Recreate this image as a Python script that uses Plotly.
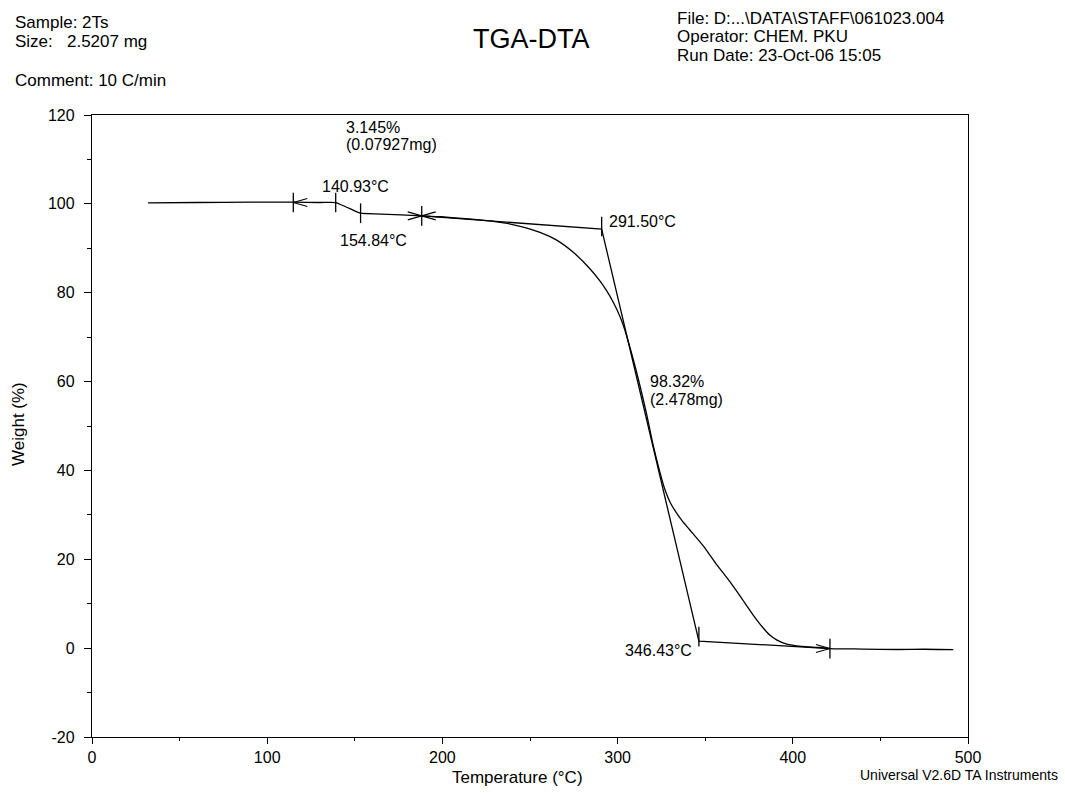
import plotly.graph_objects as go

# ---- data ----
temp_c = [32, 60, 90, 115, 130, 139, 145, 150, 153.3, 165, 188, 199, 215, 230, 237, 245,
          255.7, 265, 274.7, 284.2, 290, 293.8, 297.6, 301.4, 303.3, 305.2, 310, 316.6,
          320, 324.2, 327, 330, 333.7, 337, 341, 348.9, 356, 364.2, 371, 377.5, 383, 387, 391,
          396.5, 405, 415.5, 421, 440, 460, 475, 491.6]
weight_pct = [100.2, 100.3, 100.4, 100.4, 100.3, 100.3, 99.3, 98.4, 97.9, 97.7, 97.3, 97.1,
              96.6, 96.0, 95.6, 94.9, 93.6, 91.9, 89.1, 85.4, 82.6, 80.4, 77.8, 74.6, 72.6,
              70.2, 63.4, 52.6, 46.2, 39.5, 35.7, 32.8, 30.4, 28.6, 26.7, 23.0, 19.1, 14.9,
              11.1, 7.4, 4.6, 2.9, 1.8, 0.9, 0.4, 0.15, -0.1, -0.2, -0.3, -0.25, -0.35]

# step analysis markers (first small loss)
step1_t = [114.9, 139.1, 153.3, 188.2]
step1_w = [100.3, 100.3, 97.9, 97.3]

# onset construction for main loss
onset_t = [188.2, 290.9, 346.4, 421.2]
onset_w = [97.3, 94.3, 1.6, -0.1]

x_ticks = [0, 100, 200, 300, 400, 500]
y_ticks = [-20, 0, 20, 40, 60, 80, 100, 120]
y_tick_text = ["-20", "0", "20", "40", "60", "80", "100", "120"]

FONT = "Liberation Sans, Arial, sans-serif"
L, R, T, B = 92, 97, 115, 56
W_PX, H_PX = 1065, 793
PW, PH = W_PX - L - R, H_PX - T - B
X0, X1, Y0, Y1 = 0, 500, -20, 120
sx = PW / (X1 - X0)
sy = PH / (Y1 - Y0)

fig = go.Figure()

# main curve
fig.add_trace(go.Scatter(x=temp_c, y=weight_pct, mode="lines",
                         line=dict(color="black", width=1.3, shape="spline", smoothing=0.6),
                         hoverinfo="skip"))

# tangent construction lines
fig.add_trace(go.Scatter(x=onset_t, y=onset_w, mode="lines",
                         line=dict(color="black", width=1.3), hoverinfo="skip"))

# ticks
tick_t = [step1_t[0], step1_t[1], step1_t[2], step1_t[3], onset_t[1], onset_t[2], onset_t[3]]
tick_w = [step1_w[0], step1_w[1], step1_w[2], step1_w[3], onset_w[1] + 0.6, onset_w[2] + 1.0, onset_w[3]]
fig.add_trace(go.Scatter(x=tick_t, y=tick_w, mode="markers",
                         marker=dict(symbol="line-ns", size=14,
                                     line=dict(width=1.3, color="black")),
                         hoverinfo="skip"))


def chevron(t, w, direction):
    # direction +1: points right (arms on left); -1: points left (arms on right)
    dx = 14 / sx
    dy = 4 / sy
    return [t - direction * dx, t, t - direction * dx], [w + dy, w, w - dy]


chev = [(step1_t[0], step1_w[0], -1), (step1_t[3], step1_w[3], 1),
        (onset_t[0], onset_w[0], -1), (onset_t[3], onset_w[3], 1)]
for t, w, d in chev:
    cx, cy = chevron(t, w, d)
    fig.add_trace(go.Scatter(x=cx, y=cy, mode="lines",
                             line=dict(color="black", width=1.1), hoverinfo="skip"))


def px_to_paper(x, y):
    return (x - L) / PW, 1 - (y - T) / PH


annotations = []


def ann_px(text, x, y, xanchor="left", size=16, angle=0):
    xp, yp = px_to_paper(x, y)
    annotations.append(dict(text=text, x=xp, y=yp, xref="paper", yref="paper",
                            xanchor=xanchor, yanchor="middle", showarrow=False,
                            textangle=angle,
                            font=dict(family=FONT, size=size, color="black")))


def ann_data(text, t, w, xanchor="left", size=16):
    annotations.append(dict(text=text, x=t, y=w, xref="x", yref="y",
                            xanchor=xanchor, yanchor="middle", showarrow=False,
                            font=dict(family=FONT, size=size, color="black")))


# header
ann_px("Sample: 2Ts", 13, 23, size=17)
ann_px("Size:\u00a0\u00a0\u00a02.5207 mg", 13, 41, size=17)
ann_px("Comment: 10 C/min", 13, 80, size=17)
ann_px("TGA-DTA", 531, 39, xanchor="center", size=27)
ann_px("File: D:...\\DATA\\STAFF\\061023.004", 675, 19, size=17)
ann_px("Operator: CHEM. PKU", 675, 37, size=17)
ann_px("Run Date: 23-Oct-06 15:05", 675, 55, size=17)

# axis titles
ann_px("Temperature (°C)", 517, 778, xanchor="center", size=17)
ann_px("Weight (%)", 18, 424, xanchor="center", size=17, angle=-90)
ann_px("Universal V2.6D TA Instruments", 1060, 775, xanchor="right", size=14)

# analysis labels
ann_data("3.145%", 143.8, 117.2)
ann_data("(0.07927mg)", 143.8, 113.3)
ann_data("140.93°C", 130.1, 103.8)
ann_data("154.84°C", 140.4, 91.7)
ann_data("291.50°C", 293.8, 96.1)
ann_data("98.32%", 317.4, 60.1)
ann_data("(2.478mg)", 317.4, 56.0)
ann_data("346.43°C", 343.4, -0.6, xanchor="right")

axis_common = dict(showline=True, linecolor="black", linewidth=1.4, mirror=True,
                   showgrid=False, zeroline=False, ticks="outside", tickcolor="black",
                   tickwidth=1.2, automargin=False,
                   tickfont=dict(family=FONT, size=16, color="black"))

fig.update_layout(
    width=W_PX, height=H_PX,
    margin=dict(l=L, r=R, t=T, b=B),
    paper_bgcolor="white", plot_bgcolor="white",
    showlegend=False,
    annotations=annotations,
    xaxis=dict(range=[X0, X1], tickvals=x_ticks, ticklen=6,
               minor=dict(dtick=50, tick0=0, ticks="outside", ticklen=3, tickcolor="black"),
               **axis_common),
    yaxis=dict(range=[Y0, Y1], tickvals=y_ticks, ticktext=y_tick_text, ticklen=7,
               ticklabelstandoff=6,
               minor=dict(dtick=10, tick0=0, ticks="outside", ticklen=4, tickcolor="black"),
               **axis_common),
)

fig.write_html("out.html", config={"displayModeBar": False},
               post_script="document.body.style.margin='0';document.body.style.padding='0';")
